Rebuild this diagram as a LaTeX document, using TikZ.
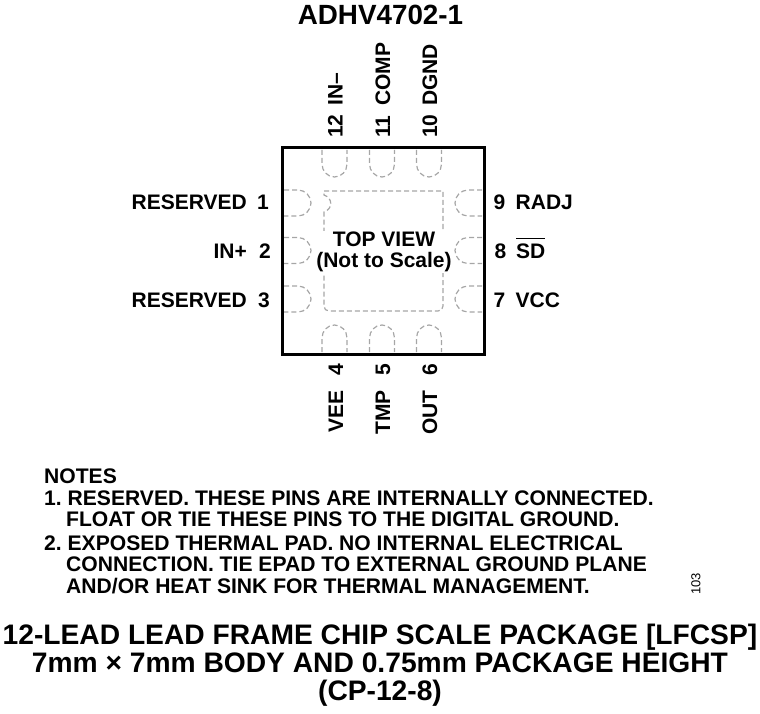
\documentclass[tikz,border=0pt]{standalone}
\usepackage{fontspec}
\setmainfont{Liberation Sans}
\frenchspacing
\tikzset{
  x=1pt,y=-1pt,
  padline/.style={draw=black!35,line width=1.2pt,dash pattern=on 5pt off 3pt},
  bodybox/.style={draw=black,line width=3pt},
  pinlab/.style={font=\fontsize{21}{23}\selectfont\bfseries,inner sep=0pt},
  notelab/.style={font=\fontsize{21.1}{23}\selectfont\bfseries,inner sep=0pt,anchor=base west},
  headlab/.style={font=\fontsize{28.2}{30}\selectfont\bfseries,inner sep=0pt,anchor=base},
  titlelab/.style={font=\fontsize{27.8}{30}\selectfont\bfseries,inner sep=0pt,anchor=base},
  viewlab/.style={font=\fontsize{21}{21.5}\selectfont\bfseries,inner sep=1pt,fill=white,align=center},
  tag/.style={font=\fontsize{13}{15}\selectfont,inner sep=0pt,rotate=90,anchor=center}
}
\begin{document}
\begin{tikzpicture}
\useasboundingbox (0,0) rectangle (760,714);
\node[titlelab] (title) at (380.5,25) {ADHV4702-1};
% exposed pad
\draw[padline] (324,191) -- (443,191) -- (443,306) .. controls (443,309) and (441,311) .. (438,311) -- (329,311) .. controls (326,311) and (324,309) .. (324,306) -- (324,212) .. controls (333,209) and (333,198) .. (324,195) -- cycle;
% top and bottom pads
\foreach \c in {334.5,382,429}{
  \draw[padline] (\c-12.5,150) -- (\c-12.5,164) .. controls (\c-12.5,171) and (\c-7,177) .. (\c,177) .. controls (\c+7,177) and (\c+12.5,171) .. (\c+12.5,164) -- (\c+12.5,150);
  \draw[padline] (\c-12.5,352) -- (\c-12.5,338) .. controls (\c-12.5,331) and (\c-7,325) .. (\c,325) .. controls (\c+7,325) and (\c+12.5,331) .. (\c+12.5,338) -- (\c+12.5,352);
}
% side pads
\foreach \c in {203,250.5,299}{
  \draw[padline] (284,\c-13) -- (298,\c-13) .. controls (305,\c-13) and (311,\c-7) .. (311,\c) .. controls (311,\c+7) and (305,\c+13) .. (298,\c+13) -- (284,\c+13);
  \draw[padline] (482,\c-13) -- (468,\c-13) .. controls (461,\c-13) and (455,\c-7) .. (455,\c) .. controls (455,\c+7) and (461,\c+13) .. (468,\c+13) -- (482,\c+13);
}
\draw[bodybox] (282,148) rectangle (484,354);
\node[viewlab] (view) at (384,252) {TOP VIEW\\(Not to Scale)};
% left labels
\node[pinlab,anchor=base east] (l1n) at (269,209.5) {1};
\node[pinlab,anchor=base east] (l1t) at (247,209.5) {RESERVED};
\node[pinlab,anchor=base east] (l2n) at (271,258.5) {2};
\node[pinlab,anchor=base east] (l2t) at (247,258.5) {IN+};
\node[pinlab,anchor=base east] (l3n) at (270,307) {3};
\node[pinlab,anchor=base east] (l3t) at (247,307) {RESERVED};
% right labels
\node[pinlab,anchor=base west] (r9n) at (493.5,209.5) {9};
\node[pinlab,anchor=base west] (r9t) at (515.5,209.5) {RADJ};
\node[pinlab,anchor=base west] (r8n) at (494.5,258.5) {8};
\node[pinlab,anchor=base west] (r8t) at (516,258.5) {\rlap{\raisebox{19.6pt}{\rule{28.5pt}{1.4pt}}}SD};
\node[pinlab,anchor=base west] (r7n) at (493.5,307) {7};
\node[pinlab,anchor=base west] (r7t) at (515.5,307) {VCC};
% top labels
\node[pinlab,rotate=90,anchor=base west] (t12n) at (342.5,138) {12};
\node[pinlab,rotate=90,anchor=base west] (t12t) at (342.5,106) {IN–};
\node[pinlab,rotate=90,anchor=base west] (t11n) at (390,138) {11};
\node[pinlab,rotate=90,anchor=base west] (t11t) at (390,106) {COMP};
\node[pinlab,rotate=90,anchor=base west] (t10n) at (437,138) {10};
\node[pinlab,rotate=90,anchor=base west] (t10t) at (437,106) {DGND};
% bottom labels
\node[pinlab,rotate=90,anchor=base east] (b4n) at (343,364) {4};
\node[pinlab,rotate=90,anchor=base east] (b4t) at (343,390) {VEE};
\node[pinlab,rotate=90,anchor=base east] (b5n) at (390,364) {5};
\node[pinlab,rotate=90,anchor=base east] (b5t) at (390,390) {TMP};
\node[pinlab,rotate=90,anchor=base east] (b6n) at (437,364) {6};
\node[pinlab,rotate=90,anchor=base east] (b6t) at (437,390) {OUT};
% notes
\node[notelab] (n0) at (44,483.5) {NOTES};
\node[notelab] (n1) at (44,505) {1. RESERVED. THESE PINS ARE INTERNALLY CONNECTED.};
\node[notelab] (n2) at (66,526) {FLOAT OR TIE THESE PINS TO THE DIGITAL GROUND.};
\node[notelab] (n3) at (44,550.5) {2. EXPOSED THERMAL PAD. NO INTERNAL ELECTRICAL};
\node[notelab] (n4) at (66,571.5) {CONNECTION. TIE EPAD TO EXTERNAL GROUND PLANE};
\node[notelab] (n5) at (66,593) {AND/OR HEAT SINK FOR THERMAL MANAGEMENT.};
\node[tag] (fig) at (696,584) {103};
% footer
\node[headlab] (f1) at (380,644.5) {12-LEAD LEAD FRAME CHIP SCALE PACKAGE [LFCSP]};
\node[headlab] (f2) at (380,672.5) {7mm × 7mm BODY AND 0.75mm PACKAGE HEIGHT};
\node[headlab] (f3) at (380,700) {(CP-12-8)};
\end{tikzpicture}
\end{document}
